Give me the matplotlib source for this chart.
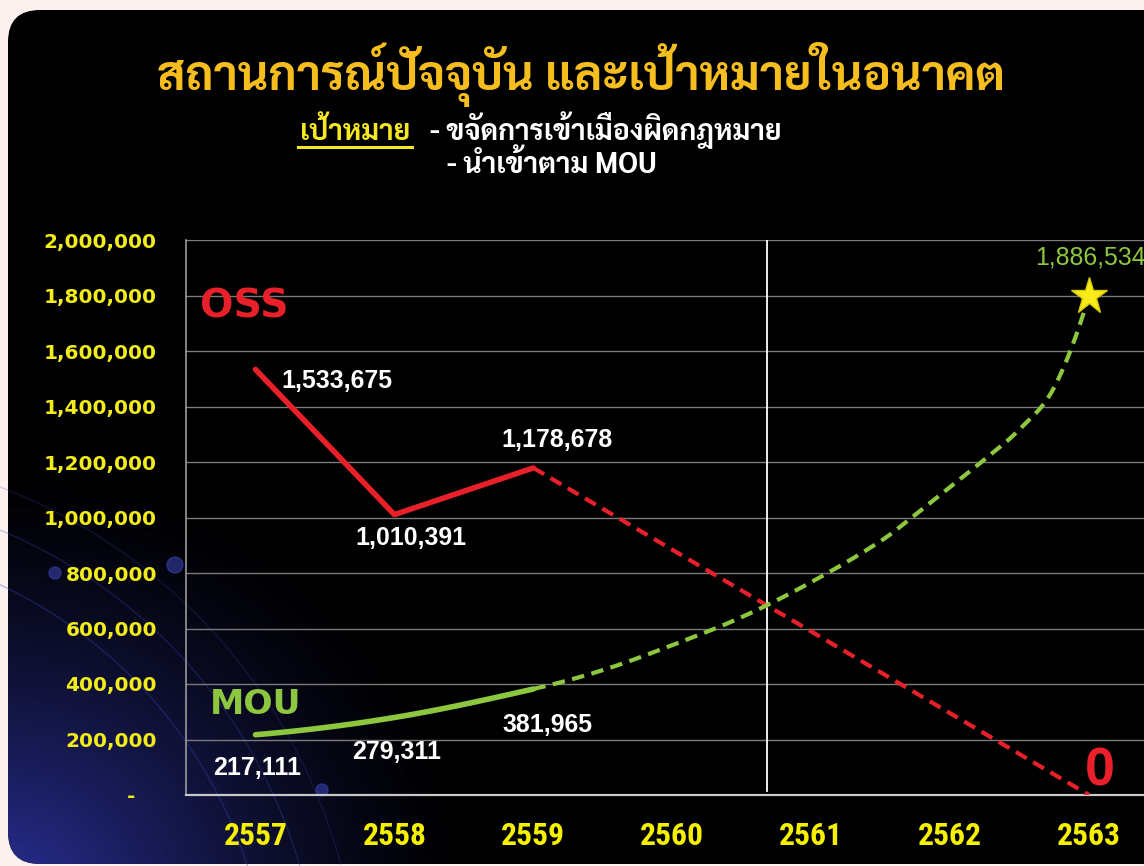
import numpy as np
import matplotlib
matplotlib.use("Agg")
import matplotlib.pyplot as plt
from matplotlib import font_manager as fm
from matplotlib.ft2font import FT2Font
from matplotlib.patches import FancyBboxPatch, Arc, Circle
from matplotlib.lines import Line2D

# ---------------- data ----------------
years = ["2557", "2558", "2559", "2560", "2561", "2562", "2563"]
oss_actual = [1533675, 1010391, 1178678]          # 2557-2559
oss_target_year_idx = [2, 6]
oss_target = [1178678, 0]                          # dashed projection 2559 -> 2563
mou_actual_pos = [0, 1, 2]
mou_actual = [217111, 279311, 381965]              # 2557-2559
# projected MOU curve (position in years from 2557, value)
mou_proj_pos = [2, 2.5, 3, 3.5, 4, 4.5, 4.75, 5, 5.25, 5.5, 5.75, 6]
mou_proj = [381965, 450000, 540000, 641000, 767000, 915000, 1010000, 1110000,
            1210000, 1318000, 1470000, 1800000]
oss_labels = ["1,533,675", "1,010,391", "1,178,678"]
mou_labels = ["217,111", "279,311", "381,965"]
mou_target_label = "1,886,534"
yticks = [0, 200000, 400000, 600000, 800000, 1000000, 1200000, 1400000,
          1600000, 1800000, 2000000]
ytick_labels = ["-   "] + [f"{v:,}" for v in yticks[1:]]
now_line_x = 3.68

title = "สถานการณ์ปัจจุบัน และเป้าหมายในอนาคต"
goal_head = "เป้าหมาย"
goal_1 = "- ขจัดการเข้าเมืองผิดกฎหมาย"
goal_2 = "- นำเข้าตาม MOU"

# ---------------- fonts ----------------
thai_names = set()
for f in fm.fontManager.ttflist:
    try:
        if 0x0E01 in FT2Font(f.fname).get_charmap():
            thai_names.add(f.name)
    except Exception:
        pass
thai_family = "DejaVu Sans"
for pref in ["Sarabun", "Noto Sans Thai Looped", "Noto Sans Thai", "Anuphan"]:
    if pref in thai_names:
        thai_family = pref
        break
THAI = [thai_family, "DejaVu Sans"]
COND = ["Roboto Condensed", "Archivo Narrow", "PT Sans Narrow", "DejaVu Sans"]
ARIAL = ["Liberation Sans", "DejaVu Sans"]

W, H = 1144, 866
fig = plt.figure(figsize=(W / 100, H / 100), dpi=100)
fig.patch.set_facecolor("#FCF1EF")

# background overlay in pixel coords
bg = fig.add_axes([0, 0, 1, 1], zorder=0)
bg.set_xlim(0, W)
bg.set_ylim(H, 0)
bg.axis("off")
panel = FancyBboxPatch((8, 10), 1250, 854, boxstyle="round,pad=0,rounding_size=32",
                       facecolor="black", edgecolor="none")
bg.add_patch(panel)
gx, gy = np.meshgrid(np.linspace(0, W, 400), np.linspace(0, H, 300))
d = np.sqrt((gx / 480.0) ** 2 + ((gy - 900) / 440.0) ** 2)
alpha = np.clip(1 - d, 0, 1) ** 1.4
rgba = np.zeros(gx.shape + (4,))
rgba[..., 0] = 0.17
rgba[..., 1] = 0.19
rgba[..., 2] = 0.60
rgba[..., 3] = alpha
im = bg.imshow(rgba, extent=(0, W, H, 0), interpolation="bilinear", zorder=1)
im.set_clip_path(panel)
for r_, a in [(470, 0.35), (520, 0.3), (560, 0.22)]:
    arc = Arc((-200, 1010), 2 * r_, 2 * r_, angle=0, theta1=280, theta2=345,
              color="#3a46b8", lw=1.0, alpha=a, zorder=2)
    bg.add_patch(arc)
for (cx, cy, rr) in [(55, 573, 6), (175, 565, 8), (322, 790, 6)]:
    bg.add_patch(Circle((cx, cy), rr, color="#3a46b8", alpha=0.55, zorder=2))

# ---------------- main axes ----------------
left, right, top, bottom = 186, 1158.5, 240, 795
ax = fig.add_axes([left / W, (H - bottom) / H, (right - left) / W, (bottom - top) / H], zorder=3)
ax.patch.set_alpha(0)
ax.set_xlim(-0.5, 6.5)
ax.set_ylim(0, 2000000)
x = np.arange(len(years))

ax.set_yticks(yticks)
ax.set_yticklabels(ytick_labels, color="#F2EC1B", fontsize=14.5, fontweight="bold",
                   family="DejaVu Sans")
ax.tick_params(axis="y", length=0, pad=21)
ax.set_xticks(x)
ax.set_xticklabels(years, color="#F5F000", fontsize=22, fontweight="black", family=COND)
ax.tick_params(axis="x", length=0, pad=19)
for s in ["top", "right"]:
    ax.spines[s].set_visible(False)
ax.spines["left"].set_color("#9a9a9a")
ax.spines["left"].set_linewidth(1.2)
ax.spines["bottom"].set_color("#c8c8c8")
ax.spines["bottom"].set_linewidth(1.6)
ax.yaxis.grid(True, color="#7a7a7a", lw=1.0)
ax.set_axisbelow(True)

ax.plot([now_line_x, now_line_x], [15000, 2000000], color="white", lw=1.3, zorder=2)


def hermite(xs, ys, n=30):
    xs = np.asarray(xs, float)
    ys = np.asarray(ys, float)
    k = len(xs)
    m = np.empty(k)
    m[1:-1] = (ys[2:] - ys[:-2]) / (xs[2:] - xs[:-2])
    s0 = (ys[1] - ys[0]) / (xs[1] - xs[0])
    s1 = (ys[-1] - ys[-2]) / (xs[-1] - xs[-2])
    m[0] = 2 * s0 - m[1] if k > 2 else s0
    m[-1] = 2 * s1 - m[-2] if k > 2 else s1
    t = np.linspace(0, 1, n)
    h00 = 2 * t ** 3 - 3 * t ** 2 + 1
    h10 = t ** 3 - 2 * t ** 2 + t
    h01 = -2 * t ** 3 + 3 * t ** 2
    h11 = t ** 3 - t ** 2
    ox, oy = [], []
    for i in range(k - 1):
        h = xs[i + 1] - xs[i]
        ox.extend(xs[i] + t * h)
        oy.extend(h00 * ys[i] + h10 * h * m[i] + h01 * ys[i + 1] + h11 * h * m[i + 1])
    return np.array(ox), np.array(oy)


RED = "#E8202A"
GREEN = "#8DC63F"

# OSS
ax.plot(x[:3], oss_actual, color=RED, lw=4, solid_capstyle="round", zorder=4)
ax.plot(oss_target_year_idx, oss_target, color=RED, lw=3, dashes=(3, 1.8), zorder=4)

# MOU: one smooth curve through actual + projected values, split at 2559
all_pos = mou_actual_pos + mou_proj_pos[1:]
all_val = mou_actual + mou_proj[1:]
cx_, cy_ = hermite(all_pos, all_val)
solid = cx_ <= 2.0
dashed = cx_ >= 2.0
ax.plot(cx_[solid], cy_[solid], color=GREEN, lw=4, solid_capstyle="round", zorder=4)
ax.plot(cx_[dashed], cy_[dashed], color=GREEN, lw=3, dashes=(3, 1.8), zorder=4)
ax.plot([mou_proj_pos[-1]], [mou_proj[-1]], marker="*", ms=28, color="#F7EC1A",
        markeredgecolor="#D8C800", zorder=6)

lab_font = dict(family=ARIAL, fontweight="bold", fontsize=17, color="white",
                ha="center", va="center", zorder=7)
oss_off = [(59, -8), (12, -17), (17, 20)]
lab_objs = []
for i, (lbl, off) in enumerate(zip(oss_labels, oss_off)):
    lab_objs.append(ax.annotate(lbl, (x[i], oss_actual[i]), xytext=off,
                                textcoords="offset points", **lab_font))
mou_off = [(1, -24), (1.5, -25), (10, -26)]
for i, (lbl, off) in enumerate(zip(mou_labels, mou_off)):
    lab_objs.append(ax.annotate(lbl, (x[i], mou_actual[i]), xytext=off,
                                textcoords="offset points", **lab_font))
tgt = ax.annotate(mou_target_label, (mou_proj_pos[-1], mou_proj[-1]), xytext=(1, 27),
                  textcoords="offset points", family=ARIAL, fontsize=17, color=GREEN,
                  ha="center", va="center", annotation_clip=False)
zero = ax.annotate("0", (x[-1], 0), xytext=(8, 17), textcoords="offset points", family=ARIAL,
                   fontweight="bold", fontsize=38, color=RED, ha="center", va="center",
                   annotation_clip=False)

# series names
oss_t = fig.text(200 / W, 1 - 306 / H, "OSS", color=RED, fontsize=28, fontweight="bold",
                 family="DejaVu Sans", ha="left", va="center", zorder=8)
mou_t = fig.text(210 / W, 1 - 705 / H, "MOU", color=GREEN, fontsize=25, fontweight="bold",
                 family="DejaVu Sans", ha="left", va="center", zorder=8)

# titles (baselines)
title_t = fig.text(581 / W, 1 - 90 / H, title, color="#F5BE1E", fontsize=30, fontweight="bold",
                   family=THAI, ha="center", va="baseline", zorder=8)
sub_fs = 20.5
head_t = fig.text(355 / W, 1 - 140 / H, goal_head, color="#F5E820", fontsize=sub_fs,
                  fontweight="bold", family=THAI, ha="center", va="baseline", zorder=8)
g1_t = fig.text(430 / W, 1 - 140 / H, goal_1, color="white", fontsize=sub_fs, fontweight="bold",
                family=THAI, ha="left", va="baseline", zorder=8)
g2_t = fig.text(447 / W, 1 - 173 / H, goal_2, color="white", fontsize=sub_fs, fontweight="bold",
                family=THAI, ha="left", va="baseline", zorder=8)

# scale font sizes so text widths match the reference
fig.canvas.draw()
r = fig.canvas.get_renderer()


def fit(t, target):
    w = t.get_window_extent(r).width
    if w > 0:
        t.set_fontsize(t.get_fontsize() * target / w)


fit(title_t, 848)
fit(oss_t, 88)
fit(mou_t, 92)
fit(lab_objs[0], 111)
for t in lab_objs[1:] + [tgt]:
    t.set_fontsize(lab_objs[0].get_fontsize())
fit(zero, 30)
xt0 = ax.get_xticklabels()[0]
w0 = xt0.get_window_extent(r).width
if w0 > 0:
    fs = xt0.get_fontsize() * 64 / w0
    for t in ax.get_xticklabels():
        t.set_fontsize(fs)
fig.canvas.draw()
bb = head_t.get_window_extent(r)
fig.add_artist(Line2D([(bb.x0 - 2) / W, (bb.x1 + 2) / W], [(H - 147) / H] * 2,
                      color="#F5E820", lw=2.2))

fig.savefig("out.png", dpi=100, facecolor=fig.get_facecolor())
